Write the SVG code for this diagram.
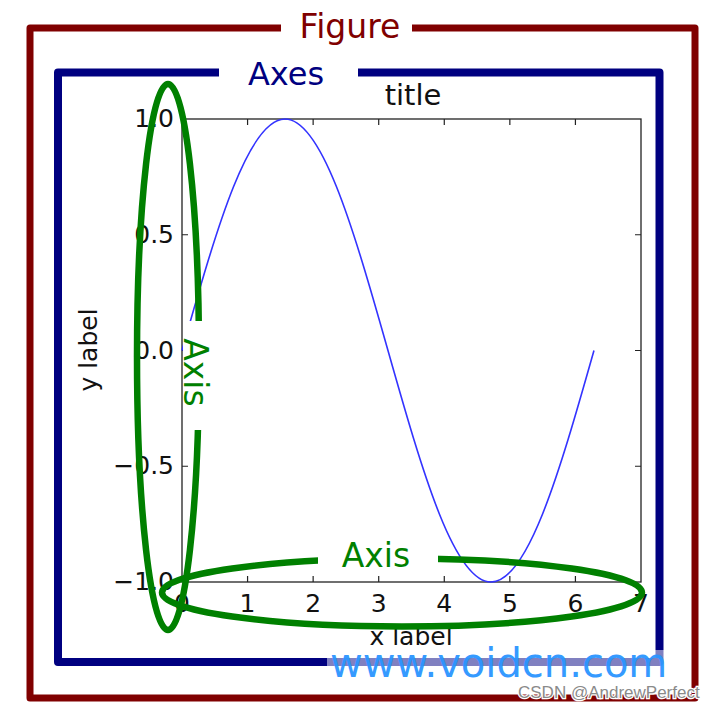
<svg xmlns="http://www.w3.org/2000/svg" width="722" height="710" viewBox="0 0 722 710">
<style>
text{font-family:"DejaVu Sans","Liberation Sans",sans-serif}
.frame{fill:none;stroke-linejoin:round;stroke-linecap:butt}
.tick{stroke:#222;stroke-width:1.2}
.tl{font-size:25px;fill:#111;text-anchor:middle}
.yl{font-size:25px;fill:#111;text-anchor:end}
.axis{font-size:33px;fill:#008000;text-anchor:middle}
.gring{fill:none;stroke:#008000;stroke-width:6.5}
</style>
<rect width="722" height="710" fill="#fff"/>
<g id="figure">
<path class="frame" d="M281,28 H30 V698 H695 V28 H412" stroke="#800000" stroke-width="7"/>
<text x="350" y="38" font-size="33" fill="#800000" text-anchor="middle">Figure</text>
</g>
<g id="axes">
<path class="frame" d="M219,72.5 H58 V662 H659.5 V72.5 H358" stroke="#000080" stroke-width="8"/>
<text x="286" y="85" font-size="32" fill="#000080" text-anchor="middle">Axes</text>
</g>
<g id="plot">
<text x="413" y="105" font-size="29" fill="#111" text-anchor="middle">title</text>
<rect x="182" y="119" width="459" height="463" fill="none" stroke="#222" stroke-width="1.3"/>
<g class="tick">
<path d="M247.57,582v-6M313.14,582v-6M378.71,582v-6M444.28,582v-6M509.85,582v-6M575.42,582v-6"/>
<path d="M247.57,119v6M313.14,119v6M378.71,119v6M444.28,119v6M509.85,119v6M575.42,119v6"/>
<path d="M182,234.75h6M182,350.5h6M182,466.25h6M641,234.75h-6M641,350.5h-6M641,466.25h-6"/>
</g>
<g class="tl">
<text x="182" y="612">0</text><text x="247.57" y="612">1</text><text x="313.14" y="612">2</text><text x="378.71" y="612">3</text><text x="444.28" y="612">4</text><text x="509.85" y="612">5</text><text x="575.42" y="612">6</text><text x="641" y="612">7</text>
</g>
<g class="yl">
<text x="174" y="127">1.0</text><text x="174" y="242.75">0.5</text><text x="174" y="358.5">0.0</text><text x="174" y="474.25">−0.5</text><text x="174" y="590">−1.0</text>
</g>
<text x="411" y="645" font-size="25" fill="#111" text-anchor="middle">x label</text>
<text transform="translate(97,350) rotate(-90)" font-size="25" fill="#111" text-anchor="middle">y label</text>
<path d="M182,350.5 C199.17,289.89 216.33,229.66 233.50,186.80 C250.67,143.94 267.82,119 284.99,119 C302.16,119 319.32,143.94 336.49,186.80 C353.66,229.66 370.81,289.89 387.98,350.5 C405.15,411.11 422.31,471.34 439.48,514.20 C456.65,557.06 473.81,582 490.98,582 C508.15,582 525.30,557.06 542.47,514.20 C559.64,471.34 576.80,411.11 593.97,350.5" fill="none" stroke="#3333ff" stroke-width="1.6"/>
</g>
<g id="axis-y">
<ellipse class="gring" cx="168" cy="357" rx="31" ry="273"/>
<rect x="183" y="321" width="30" height="109" fill="#fff"/>
<text class="axis" transform="translate(184,372.5) rotate(90)">Axis</text>
</g>
<g id="axis-x">
<ellipse class="gring" cx="402" cy="592.5" rx="240" ry="34"/>
<rect x="318" y="538" width="120" height="36" fill="#fff"/>
<text class="axis" x="376" y="567">Axis</text>
</g>
<g id="watermark">
<rect x="327" y="650" width="340" height="17" fill="#fff" opacity="0.5"/>
<text x="330" y="677" font-size="40" fill="#2b95ff" opacity="0.95">www.voidcn.com</text>
<text x="518" y="698" font-family="Liberation Sans,sans-serif" font-size="17" fill="#8a8a8a" stroke="#fff" stroke-width="2.5" paint-order="stroke" style="font-family:'Liberation Sans',sans-serif">CSDN @AndrewPerfect</text>
</g>
</svg>
